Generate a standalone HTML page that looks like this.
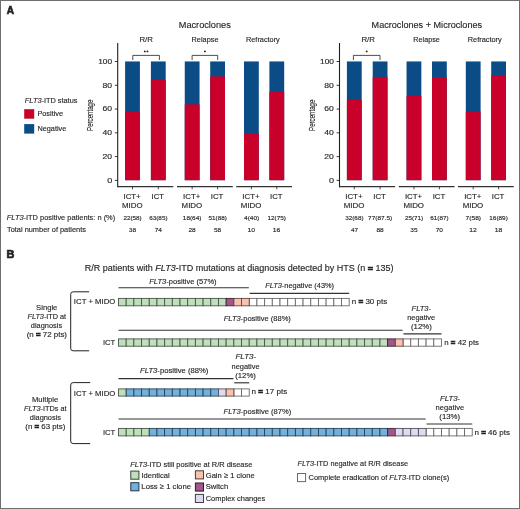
<!DOCTYPE html>
<html><head><meta charset="utf-8"><style>
html,body{margin:0;padding:0;background:#fff;width:520px;height:509px;overflow:hidden}
svg{display:block;filter:blur(0.35px);font-family:"Liberation Sans", sans-serif}
text{stroke:#231f20;stroke-width:0.14px}
text.b{stroke-width:0.7px}
tspan.eq{stroke-width:0.75px}
</style></head><body>
<svg width="520" height="509" viewBox="0 0 520 509">
<line x1="117.70" y1="43" x2="117.70" y2="187.3" stroke="#231f20" stroke-width="1.1"/>
<line x1="114.80" y1="180.40" x2="117.70" y2="180.40" stroke="#231f20" stroke-width="0.9"/>
<line x1="114.80" y1="156.62" x2="117.70" y2="156.62" stroke="#231f20" stroke-width="0.9"/>
<line x1="114.80" y1="132.84" x2="117.70" y2="132.84" stroke="#231f20" stroke-width="0.9"/>
<line x1="114.80" y1="109.06" x2="117.70" y2="109.06" stroke="#231f20" stroke-width="0.9"/>
<line x1="114.80" y1="85.28" x2="117.70" y2="85.28" stroke="#231f20" stroke-width="0.9"/>
<line x1="114.80" y1="61.50" x2="117.70" y2="61.50" stroke="#231f20" stroke-width="0.9"/>
<rect x="125.10" y="61.45" width="14.8" height="118.75" fill="#0b4b86"/>
<rect x="125.10" y="111.91" width="14.8" height="68.29" fill="#c8002a"/>
<line x1="132.50" y1="186.6" x2="132.50" y2="189.3" stroke="#231f20" stroke-width="0.8"/>
<rect x="150.90" y="61.45" width="14.8" height="118.75" fill="#0b4b86"/>
<rect x="150.90" y="79.69" width="14.8" height="100.51" fill="#c8002a"/>
<line x1="158.30" y1="186.6" x2="158.30" y2="189.3" stroke="#231f20" stroke-width="0.8"/>
<rect x="184.75" y="61.45" width="14.8" height="118.75" fill="#0b4b86"/>
<rect x="184.75" y="104.35" width="14.8" height="75.85" fill="#c8002a"/>
<line x1="192.15" y1="186.6" x2="192.15" y2="189.3" stroke="#231f20" stroke-width="0.8"/>
<rect x="210.20" y="61.45" width="14.8" height="118.75" fill="#0b4b86"/>
<rect x="210.20" y="76.38" width="14.8" height="103.82" fill="#c8002a"/>
<line x1="217.60" y1="186.6" x2="217.60" y2="189.3" stroke="#231f20" stroke-width="0.8"/>
<rect x="244.00" y="61.45" width="14.8" height="118.75" fill="#0b4b86"/>
<rect x="244.00" y="133.08" width="14.8" height="47.12" fill="#c8002a"/>
<line x1="251.40" y1="186.6" x2="251.40" y2="189.3" stroke="#231f20" stroke-width="0.8"/>
<rect x="269.40" y="61.45" width="14.8" height="118.75" fill="#0b4b86"/>
<rect x="269.40" y="91.67" width="14.8" height="88.52" fill="#c8002a"/>
<line x1="276.80" y1="186.6" x2="276.80" y2="189.3" stroke="#231f20" stroke-width="0.8"/>
<line x1="117.50" y1="186.7" x2="173.30" y2="186.7" stroke="#333" stroke-width="1.2"/>
<line x1="176.97" y1="186.7" x2="232.78" y2="186.7" stroke="#333" stroke-width="1.2"/>
<line x1="236.20" y1="186.7" x2="292.00" y2="186.7" stroke="#333" stroke-width="1.2"/>
<path d="M132.80,60 V55.4 H159.40 V60" fill="none" stroke="#231f20" stroke-width="0.8"/>
<circle cx="144.80" cy="51.4" r="0.95" fill="#231f20"/>
<circle cx="147.40" cy="51.4" r="0.95" fill="#231f20"/>
<path d="M192.10,60 V55.4 H217.70 V60" fill="none" stroke="#231f20" stroke-width="0.8"/>
<circle cx="204.90" cy="51.4" r="0.95" fill="#231f20"/>
<text transform="translate(93.10,130.9) rotate(-90)" font-size="8.5" textLength="31.3" lengthAdjust="spacingAndGlyphs" fill="#231f20">Percentage</text>
<line x1="339.50" y1="43" x2="339.50" y2="187.3" stroke="#231f20" stroke-width="1.1"/>
<line x1="336.60" y1="180.40" x2="339.50" y2="180.40" stroke="#231f20" stroke-width="0.9"/>
<line x1="336.60" y1="156.62" x2="339.50" y2="156.62" stroke="#231f20" stroke-width="0.9"/>
<line x1="336.60" y1="132.84" x2="339.50" y2="132.84" stroke="#231f20" stroke-width="0.9"/>
<line x1="336.60" y1="109.06" x2="339.50" y2="109.06" stroke="#231f20" stroke-width="0.9"/>
<line x1="336.60" y1="85.28" x2="339.50" y2="85.28" stroke="#231f20" stroke-width="0.9"/>
<line x1="336.60" y1="61.50" x2="339.50" y2="61.50" stroke="#231f20" stroke-width="0.9"/>
<rect x="346.90" y="61.45" width="14.8" height="118.75" fill="#0b4b86"/>
<rect x="346.90" y="99.86" width="14.8" height="80.34" fill="#c8002a"/>
<line x1="354.30" y1="186.6" x2="354.30" y2="189.3" stroke="#231f20" stroke-width="0.8"/>
<rect x="372.70" y="61.45" width="14.8" height="118.75" fill="#0b4b86"/>
<rect x="372.70" y="76.89" width="14.8" height="103.31" fill="#c8002a"/>
<line x1="380.10" y1="186.6" x2="380.10" y2="189.3" stroke="#231f20" stroke-width="0.8"/>
<rect x="406.55" y="61.45" width="14.8" height="118.75" fill="#0b4b86"/>
<rect x="406.55" y="95.90" width="14.8" height="84.30" fill="#c8002a"/>
<line x1="413.95" y1="186.6" x2="413.95" y2="189.3" stroke="#231f20" stroke-width="0.8"/>
<rect x="432.00" y="61.45" width="14.8" height="118.75" fill="#0b4b86"/>
<rect x="432.00" y="77.31" width="14.8" height="102.89" fill="#c8002a"/>
<line x1="439.40" y1="186.6" x2="439.40" y2="189.3" stroke="#231f20" stroke-width="0.8"/>
<rect x="465.80" y="61.45" width="14.8" height="118.75" fill="#0b4b86"/>
<rect x="465.80" y="111.39" width="14.8" height="68.81" fill="#c8002a"/>
<line x1="473.20" y1="186.6" x2="473.20" y2="189.3" stroke="#231f20" stroke-width="0.8"/>
<rect x="491.20" y="61.45" width="14.8" height="118.75" fill="#0b4b86"/>
<rect x="491.20" y="75.24" width="14.8" height="104.96" fill="#c8002a"/>
<line x1="498.60" y1="186.6" x2="498.60" y2="189.3" stroke="#231f20" stroke-width="0.8"/>
<line x1="339.30" y1="186.7" x2="395.10" y2="186.7" stroke="#333" stroke-width="1.2"/>
<line x1="398.78" y1="186.7" x2="454.57" y2="186.7" stroke="#333" stroke-width="1.2"/>
<line x1="458.00" y1="186.7" x2="513.80" y2="186.7" stroke="#333" stroke-width="1.2"/>
<path d="M353.40,60 V55.4 H380.00 V60" fill="none" stroke="#231f20" stroke-width="0.8"/>
<circle cx="366.70" cy="51.4" r="0.95" fill="#231f20"/>
<text transform="translate(314.90,130.9) rotate(-90)" font-size="8.5" textLength="31.3" lengthAdjust="spacingAndGlyphs" fill="#231f20">Percentage</text>
<rect x="24.2" y="109.2" width="10" height="9.5" fill="#c8002a"/>
<rect x="24.2" y="124.1" width="10" height="9.5" fill="#0b4b86"/>
<path d="M89.1,291.8 H73.2 Q70.7,291.8 70.7,294.3 V348.3 Q70.7,350.8 73.2,350.8 H89.1" fill="none" stroke="#231f20" stroke-width="1"/>
<path d="M90.2,382.6 H73.2 Q70.7,382.6 70.7,385.1 V441.1 Q70.7,443.6 73.2,443.6 H90.2" fill="none" stroke="#231f20" stroke-width="1"/>
<rect x="249.23" y="298.40" width="7.69" height="7.4" fill="#fff" stroke="#6a6a6a" stroke-width="0.9"/>
<rect x="256.92" y="298.40" width="7.69" height="7.4" fill="#fff" stroke="#6a6a6a" stroke-width="0.9"/>
<rect x="264.61" y="298.40" width="7.69" height="7.4" fill="#fff" stroke="#6a6a6a" stroke-width="0.9"/>
<rect x="272.30" y="298.40" width="7.69" height="7.4" fill="#fff" stroke="#6a6a6a" stroke-width="0.9"/>
<rect x="279.99" y="298.40" width="7.69" height="7.4" fill="#fff" stroke="#6a6a6a" stroke-width="0.9"/>
<rect x="287.68" y="298.40" width="7.69" height="7.4" fill="#fff" stroke="#6a6a6a" stroke-width="0.9"/>
<rect x="295.37" y="298.40" width="7.69" height="7.4" fill="#fff" stroke="#6a6a6a" stroke-width="0.9"/>
<rect x="303.06" y="298.40" width="7.69" height="7.4" fill="#fff" stroke="#6a6a6a" stroke-width="0.9"/>
<rect x="310.75" y="298.40" width="7.69" height="7.4" fill="#fff" stroke="#6a6a6a" stroke-width="0.9"/>
<rect x="318.44" y="298.40" width="7.69" height="7.4" fill="#fff" stroke="#6a6a6a" stroke-width="0.9"/>
<rect x="326.13" y="298.40" width="7.69" height="7.4" fill="#fff" stroke="#6a6a6a" stroke-width="0.9"/>
<rect x="333.82" y="298.40" width="7.69" height="7.4" fill="#fff" stroke="#6a6a6a" stroke-width="0.9"/>
<rect x="341.51" y="298.40" width="7.69" height="7.4" fill="#fff" stroke="#6a6a6a" stroke-width="0.9"/>
<rect x="118.50" y="298.40" width="7.69" height="7.4" fill="#c0e0bd" stroke="#485547" stroke-width="0.9"/>
<rect x="126.19" y="298.40" width="7.69" height="7.4" fill="#c0e0bd" stroke="#485547" stroke-width="0.9"/>
<rect x="133.88" y="298.40" width="7.69" height="7.4" fill="#c0e0bd" stroke="#485547" stroke-width="0.9"/>
<rect x="141.57" y="298.40" width="7.69" height="7.4" fill="#c0e0bd" stroke="#485547" stroke-width="0.9"/>
<rect x="149.26" y="298.40" width="7.69" height="7.4" fill="#c0e0bd" stroke="#485547" stroke-width="0.9"/>
<rect x="156.95" y="298.40" width="7.69" height="7.4" fill="#c0e0bd" stroke="#485547" stroke-width="0.9"/>
<rect x="164.64" y="298.40" width="7.69" height="7.4" fill="#c0e0bd" stroke="#485547" stroke-width="0.9"/>
<rect x="172.33" y="298.40" width="7.69" height="7.4" fill="#c0e0bd" stroke="#485547" stroke-width="0.9"/>
<rect x="180.02" y="298.40" width="7.69" height="7.4" fill="#c0e0bd" stroke="#485547" stroke-width="0.9"/>
<rect x="187.71" y="298.40" width="7.69" height="7.4" fill="#c0e0bd" stroke="#485547" stroke-width="0.9"/>
<rect x="195.40" y="298.40" width="7.69" height="7.4" fill="#c0e0bd" stroke="#485547" stroke-width="0.9"/>
<rect x="203.09" y="298.40" width="7.69" height="7.4" fill="#c0e0bd" stroke="#485547" stroke-width="0.9"/>
<rect x="210.78" y="298.40" width="7.69" height="7.4" fill="#c0e0bd" stroke="#485547" stroke-width="0.9"/>
<rect x="218.47" y="298.40" width="7.69" height="7.4" fill="#c0e0bd" stroke="#485547" stroke-width="0.9"/>
<rect x="226.16" y="298.40" width="7.69" height="7.4" fill="#a2578b" stroke="#3d2134" stroke-width="0.9"/>
<rect x="233.85" y="298.40" width="7.69" height="7.4" fill="#f8c1b0" stroke="#5e4942" stroke-width="0.9"/>
<rect x="241.54" y="298.40" width="7.69" height="7.4" fill="#f8c1b0" stroke="#5e4942" stroke-width="0.9"/>
<line x1="118.50" y1="287.7" x2="248.83" y2="287.7" stroke="#333" stroke-width="1.15"/>
<line x1="249.63" y1="293.3" x2="349.20" y2="293.3" stroke="#333" stroke-width="1.15"/>
<rect x="403.03" y="338.90" width="7.69" height="7.3" fill="#fff" stroke="#6a6a6a" stroke-width="0.9"/>
<rect x="410.72" y="338.90" width="7.69" height="7.3" fill="#fff" stroke="#6a6a6a" stroke-width="0.9"/>
<rect x="418.41" y="338.90" width="7.69" height="7.3" fill="#fff" stroke="#6a6a6a" stroke-width="0.9"/>
<rect x="426.10" y="338.90" width="7.69" height="7.3" fill="#fff" stroke="#6a6a6a" stroke-width="0.9"/>
<rect x="433.79" y="338.90" width="7.69" height="7.3" fill="#fff" stroke="#6a6a6a" stroke-width="0.9"/>
<rect x="118.50" y="338.90" width="7.69" height="7.3" fill="#c0e0bd" stroke="#485547" stroke-width="0.9"/>
<rect x="126.19" y="338.90" width="7.69" height="7.3" fill="#c0e0bd" stroke="#485547" stroke-width="0.9"/>
<rect x="133.88" y="338.90" width="7.69" height="7.3" fill="#c0e0bd" stroke="#485547" stroke-width="0.9"/>
<rect x="141.57" y="338.90" width="7.69" height="7.3" fill="#c0e0bd" stroke="#485547" stroke-width="0.9"/>
<rect x="149.26" y="338.90" width="7.69" height="7.3" fill="#c0e0bd" stroke="#485547" stroke-width="0.9"/>
<rect x="156.95" y="338.90" width="7.69" height="7.3" fill="#c0e0bd" stroke="#485547" stroke-width="0.9"/>
<rect x="164.64" y="338.90" width="7.69" height="7.3" fill="#c0e0bd" stroke="#485547" stroke-width="0.9"/>
<rect x="172.33" y="338.90" width="7.69" height="7.3" fill="#c0e0bd" stroke="#485547" stroke-width="0.9"/>
<rect x="180.02" y="338.90" width="7.69" height="7.3" fill="#c0e0bd" stroke="#485547" stroke-width="0.9"/>
<rect x="187.71" y="338.90" width="7.69" height="7.3" fill="#c0e0bd" stroke="#485547" stroke-width="0.9"/>
<rect x="195.40" y="338.90" width="7.69" height="7.3" fill="#c0e0bd" stroke="#485547" stroke-width="0.9"/>
<rect x="203.09" y="338.90" width="7.69" height="7.3" fill="#c0e0bd" stroke="#485547" stroke-width="0.9"/>
<rect x="210.78" y="338.90" width="7.69" height="7.3" fill="#c0e0bd" stroke="#485547" stroke-width="0.9"/>
<rect x="218.47" y="338.90" width="7.69" height="7.3" fill="#c0e0bd" stroke="#485547" stroke-width="0.9"/>
<rect x="226.16" y="338.90" width="7.69" height="7.3" fill="#c0e0bd" stroke="#485547" stroke-width="0.9"/>
<rect x="233.85" y="338.90" width="7.69" height="7.3" fill="#c0e0bd" stroke="#485547" stroke-width="0.9"/>
<rect x="241.54" y="338.90" width="7.69" height="7.3" fill="#c0e0bd" stroke="#485547" stroke-width="0.9"/>
<rect x="249.23" y="338.90" width="7.69" height="7.3" fill="#c0e0bd" stroke="#485547" stroke-width="0.9"/>
<rect x="256.92" y="338.90" width="7.69" height="7.3" fill="#c0e0bd" stroke="#485547" stroke-width="0.9"/>
<rect x="264.61" y="338.90" width="7.69" height="7.3" fill="#c0e0bd" stroke="#485547" stroke-width="0.9"/>
<rect x="272.30" y="338.90" width="7.69" height="7.3" fill="#c0e0bd" stroke="#485547" stroke-width="0.9"/>
<rect x="279.99" y="338.90" width="7.69" height="7.3" fill="#c0e0bd" stroke="#485547" stroke-width="0.9"/>
<rect x="287.68" y="338.90" width="7.69" height="7.3" fill="#c0e0bd" stroke="#485547" stroke-width="0.9"/>
<rect x="295.37" y="338.90" width="7.69" height="7.3" fill="#c0e0bd" stroke="#485547" stroke-width="0.9"/>
<rect x="303.06" y="338.90" width="7.69" height="7.3" fill="#c0e0bd" stroke="#485547" stroke-width="0.9"/>
<rect x="310.75" y="338.90" width="7.69" height="7.3" fill="#c0e0bd" stroke="#485547" stroke-width="0.9"/>
<rect x="318.44" y="338.90" width="7.69" height="7.3" fill="#c0e0bd" stroke="#485547" stroke-width="0.9"/>
<rect x="326.13" y="338.90" width="7.69" height="7.3" fill="#c0e0bd" stroke="#485547" stroke-width="0.9"/>
<rect x="333.82" y="338.90" width="7.69" height="7.3" fill="#c0e0bd" stroke="#485547" stroke-width="0.9"/>
<rect x="341.51" y="338.90" width="7.69" height="7.3" fill="#c0e0bd" stroke="#485547" stroke-width="0.9"/>
<rect x="349.20" y="338.90" width="7.69" height="7.3" fill="#c0e0bd" stroke="#485547" stroke-width="0.9"/>
<rect x="356.89" y="338.90" width="7.69" height="7.3" fill="#c0e0bd" stroke="#485547" stroke-width="0.9"/>
<rect x="364.58" y="338.90" width="7.69" height="7.3" fill="#c0e0bd" stroke="#485547" stroke-width="0.9"/>
<rect x="372.27" y="338.90" width="7.69" height="7.3" fill="#c0e0bd" stroke="#485547" stroke-width="0.9"/>
<rect x="379.96" y="338.90" width="7.69" height="7.3" fill="#c0e0bd" stroke="#485547" stroke-width="0.9"/>
<rect x="387.65" y="338.90" width="7.69" height="7.3" fill="#a2578b" stroke="#3d2134" stroke-width="0.9"/>
<rect x="395.34" y="338.90" width="7.69" height="7.3" fill="#f8c1b0" stroke="#5e4942" stroke-width="0.9"/>
<line x1="118.50" y1="330.2" x2="402.63" y2="330.2" stroke="#333" stroke-width="1.15"/>
<line x1="403.43" y1="333.8" x2="441.48" y2="333.8" stroke="#333" stroke-width="1.15"/>
<rect x="233.85" y="388.90" width="7.69" height="7.2" fill="#fff" stroke="#6a6a6a" stroke-width="0.9"/>
<rect x="241.54" y="388.90" width="7.69" height="7.2" fill="#fff" stroke="#6a6a6a" stroke-width="0.9"/>
<rect x="118.50" y="388.90" width="7.69" height="7.2" fill="#c0e0bd" stroke="#485547" stroke-width="0.9"/>
<rect x="126.19" y="388.90" width="7.69" height="7.2" fill="#72b1de" stroke="#2b4354" stroke-width="0.9"/>
<rect x="133.88" y="388.90" width="7.69" height="7.2" fill="#72b1de" stroke="#2b4354" stroke-width="0.9"/>
<rect x="141.57" y="388.90" width="7.69" height="7.2" fill="#72b1de" stroke="#2b4354" stroke-width="0.9"/>
<rect x="149.26" y="388.90" width="7.69" height="7.2" fill="#72b1de" stroke="#2b4354" stroke-width="0.9"/>
<rect x="156.95" y="388.90" width="7.69" height="7.2" fill="#72b1de" stroke="#2b4354" stroke-width="0.9"/>
<rect x="164.64" y="388.90" width="7.69" height="7.2" fill="#72b1de" stroke="#2b4354" stroke-width="0.9"/>
<rect x="172.33" y="388.90" width="7.69" height="7.2" fill="#72b1de" stroke="#2b4354" stroke-width="0.9"/>
<rect x="180.02" y="388.90" width="7.69" height="7.2" fill="#72b1de" stroke="#2b4354" stroke-width="0.9"/>
<rect x="187.71" y="388.90" width="7.69" height="7.2" fill="#72b1de" stroke="#2b4354" stroke-width="0.9"/>
<rect x="195.40" y="388.90" width="7.69" height="7.2" fill="#72b1de" stroke="#2b4354" stroke-width="0.9"/>
<rect x="203.09" y="388.90" width="7.69" height="7.2" fill="#72b1de" stroke="#2b4354" stroke-width="0.9"/>
<rect x="210.78" y="388.90" width="7.69" height="7.2" fill="#72b1de" stroke="#2b4354" stroke-width="0.9"/>
<rect x="218.47" y="388.90" width="7.69" height="7.2" fill="#e0daf0" stroke="#55525b" stroke-width="0.9"/>
<rect x="226.16" y="388.90" width="7.69" height="7.2" fill="#f8c1b0" stroke="#5e4942" stroke-width="0.9"/>
<line x1="118.50" y1="378.6" x2="233.45" y2="378.6" stroke="#333" stroke-width="1.15"/>
<line x1="234.25" y1="382.8" x2="249.23" y2="382.8" stroke="#333" stroke-width="1.15"/>
<rect x="426.10" y="428.40" width="7.69" height="7.5" fill="#fff" stroke="#6a6a6a" stroke-width="0.9"/>
<rect x="433.79" y="428.40" width="7.69" height="7.5" fill="#fff" stroke="#6a6a6a" stroke-width="0.9"/>
<rect x="441.48" y="428.40" width="7.69" height="7.5" fill="#fff" stroke="#6a6a6a" stroke-width="0.9"/>
<rect x="449.17" y="428.40" width="7.69" height="7.5" fill="#fff" stroke="#6a6a6a" stroke-width="0.9"/>
<rect x="456.86" y="428.40" width="7.69" height="7.5" fill="#fff" stroke="#6a6a6a" stroke-width="0.9"/>
<rect x="464.55" y="428.40" width="7.69" height="7.5" fill="#fff" stroke="#6a6a6a" stroke-width="0.9"/>
<rect x="118.50" y="428.40" width="7.69" height="7.5" fill="#c0e0bd" stroke="#485547" stroke-width="0.9"/>
<rect x="126.19" y="428.40" width="7.69" height="7.5" fill="#c0e0bd" stroke="#485547" stroke-width="0.9"/>
<rect x="133.88" y="428.40" width="7.69" height="7.5" fill="#c0e0bd" stroke="#485547" stroke-width="0.9"/>
<rect x="141.57" y="428.40" width="7.69" height="7.5" fill="#c0e0bd" stroke="#485547" stroke-width="0.9"/>
<rect x="149.26" y="428.40" width="7.69" height="7.5" fill="#72b1de" stroke="#2b4354" stroke-width="0.9"/>
<rect x="156.95" y="428.40" width="7.69" height="7.5" fill="#72b1de" stroke="#2b4354" stroke-width="0.9"/>
<rect x="164.64" y="428.40" width="7.69" height="7.5" fill="#72b1de" stroke="#2b4354" stroke-width="0.9"/>
<rect x="172.33" y="428.40" width="7.69" height="7.5" fill="#72b1de" stroke="#2b4354" stroke-width="0.9"/>
<rect x="180.02" y="428.40" width="7.69" height="7.5" fill="#72b1de" stroke="#2b4354" stroke-width="0.9"/>
<rect x="187.71" y="428.40" width="7.69" height="7.5" fill="#72b1de" stroke="#2b4354" stroke-width="0.9"/>
<rect x="195.40" y="428.40" width="7.69" height="7.5" fill="#72b1de" stroke="#2b4354" stroke-width="0.9"/>
<rect x="203.09" y="428.40" width="7.69" height="7.5" fill="#72b1de" stroke="#2b4354" stroke-width="0.9"/>
<rect x="210.78" y="428.40" width="7.69" height="7.5" fill="#72b1de" stroke="#2b4354" stroke-width="0.9"/>
<rect x="218.47" y="428.40" width="7.69" height="7.5" fill="#72b1de" stroke="#2b4354" stroke-width="0.9"/>
<rect x="226.16" y="428.40" width="7.69" height="7.5" fill="#72b1de" stroke="#2b4354" stroke-width="0.9"/>
<rect x="233.85" y="428.40" width="7.69" height="7.5" fill="#72b1de" stroke="#2b4354" stroke-width="0.9"/>
<rect x="241.54" y="428.40" width="7.69" height="7.5" fill="#72b1de" stroke="#2b4354" stroke-width="0.9"/>
<rect x="249.23" y="428.40" width="7.69" height="7.5" fill="#72b1de" stroke="#2b4354" stroke-width="0.9"/>
<rect x="256.92" y="428.40" width="7.69" height="7.5" fill="#72b1de" stroke="#2b4354" stroke-width="0.9"/>
<rect x="264.61" y="428.40" width="7.69" height="7.5" fill="#72b1de" stroke="#2b4354" stroke-width="0.9"/>
<rect x="272.30" y="428.40" width="7.69" height="7.5" fill="#72b1de" stroke="#2b4354" stroke-width="0.9"/>
<rect x="279.99" y="428.40" width="7.69" height="7.5" fill="#72b1de" stroke="#2b4354" stroke-width="0.9"/>
<rect x="287.68" y="428.40" width="7.69" height="7.5" fill="#72b1de" stroke="#2b4354" stroke-width="0.9"/>
<rect x="295.37" y="428.40" width="7.69" height="7.5" fill="#72b1de" stroke="#2b4354" stroke-width="0.9"/>
<rect x="303.06" y="428.40" width="7.69" height="7.5" fill="#72b1de" stroke="#2b4354" stroke-width="0.9"/>
<rect x="310.75" y="428.40" width="7.69" height="7.5" fill="#72b1de" stroke="#2b4354" stroke-width="0.9"/>
<rect x="318.44" y="428.40" width="7.69" height="7.5" fill="#72b1de" stroke="#2b4354" stroke-width="0.9"/>
<rect x="326.13" y="428.40" width="7.69" height="7.5" fill="#72b1de" stroke="#2b4354" stroke-width="0.9"/>
<rect x="333.82" y="428.40" width="7.69" height="7.5" fill="#72b1de" stroke="#2b4354" stroke-width="0.9"/>
<rect x="341.51" y="428.40" width="7.69" height="7.5" fill="#72b1de" stroke="#2b4354" stroke-width="0.9"/>
<rect x="349.20" y="428.40" width="7.69" height="7.5" fill="#72b1de" stroke="#2b4354" stroke-width="0.9"/>
<rect x="356.89" y="428.40" width="7.69" height="7.5" fill="#72b1de" stroke="#2b4354" stroke-width="0.9"/>
<rect x="364.58" y="428.40" width="7.69" height="7.5" fill="#72b1de" stroke="#2b4354" stroke-width="0.9"/>
<rect x="372.27" y="428.40" width="7.69" height="7.5" fill="#72b1de" stroke="#2b4354" stroke-width="0.9"/>
<rect x="379.96" y="428.40" width="7.69" height="7.5" fill="#72b1de" stroke="#2b4354" stroke-width="0.9"/>
<rect x="387.65" y="428.40" width="7.69" height="7.5" fill="#a2578b" stroke="#3d2134" stroke-width="0.9"/>
<rect x="395.34" y="428.40" width="7.69" height="7.5" fill="#e0daf0" stroke="#55525b" stroke-width="0.9"/>
<rect x="403.03" y="428.40" width="7.69" height="7.5" fill="#e0daf0" stroke="#55525b" stroke-width="0.9"/>
<rect x="410.72" y="428.40" width="7.69" height="7.5" fill="#e0daf0" stroke="#55525b" stroke-width="0.9"/>
<rect x="418.41" y="428.40" width="7.69" height="7.5" fill="#e0daf0" stroke="#55525b" stroke-width="0.9"/>
<line x1="118.50" y1="419.0" x2="425.70" y2="419.0" stroke="#333" stroke-width="1.15"/>
<line x1="426.50" y1="424.0" x2="472.24" y2="424.0" stroke="#333" stroke-width="1.15"/>
<rect x="130.8" y="471.1" width="8.1" height="8.1" fill="#c0e0bd" stroke="#394338" stroke-width="1.0"/>
<rect x="130.8" y="482.7" width="8.1" height="8.1" fill="#72b1de" stroke="#223542" stroke-width="1.0"/>
<rect x="195.4" y="470.8" width="8.1" height="8.1" fill="#f8c1b0" stroke="#4a3934" stroke-width="1.0"/>
<rect x="195.4" y="483.0" width="8.1" height="8.1" fill="#a2578b" stroke="#301a29" stroke-width="1.0"/>
<rect x="195.4" y="494.4" width="8.1" height="8.1" fill="#e0daf0" stroke="#434148" stroke-width="1.0"/>
<rect x="297.5" y="473.5" width="8.1" height="8.1" fill="#fff" stroke="#6a6a6a" stroke-width="1.0"/>
<rect x="0.5" y="0.5" width="519" height="508" fill="none" stroke="#6e6e6e" stroke-width="1"/>
<text id="t0" class="b" transform="translate(6.662,13.500) scale(0.9517,1)" font-size="10.6" font-weight="bold" fill="#231f20" xml:space="preserve"><tspan font-style="normal">A</tspan></text>
<text id="t1" transform="translate(178.767,28.000) scale(0.9769,1)" font-size="9.4" font-weight="normal" fill="#231f20" xml:space="preserve"><tspan font-style="normal">Macroclones</tspan></text>
<text id="t2" transform="translate(139.396,42.200) scale(1.0080,1)" font-size="7.8" font-weight="normal" fill="#231f20" xml:space="preserve"><tspan font-style="normal">R/R</tspan></text>
<text id="t3" transform="translate(191.528,41.800) scale(0.9441,1)" font-size="7.8" font-weight="normal" fill="#231f20" xml:space="preserve"><tspan font-style="normal">Relapse</tspan></text>
<text id="t4" transform="translate(246.031,42.100) scale(0.9380,1)" font-size="7.8" font-weight="normal" fill="#231f20" xml:space="preserve"><tspan font-style="normal">Refractory</tspan></text>
<text id="t5" transform="translate(107.193,182.750) scale(1.2286,1)" font-size="7.4" font-weight="normal" fill="#231f20" xml:space="preserve"><tspan font-style="normal">0</tspan></text>
<text id="t6" transform="translate(102.510,158.970) scale(1.1613,1)" font-size="7.4" font-weight="normal" fill="#231f20" xml:space="preserve"><tspan font-style="normal">20</tspan></text>
<text id="t7" transform="translate(102.510,135.190) scale(1.1613,1)" font-size="7.4" font-weight="normal" fill="#231f20" xml:space="preserve"><tspan font-style="normal">40</tspan></text>
<text id="t8" transform="translate(102.510,111.410) scale(1.1613,1)" font-size="7.4" font-weight="normal" fill="#231f20" xml:space="preserve"><tspan font-style="normal">60</tspan></text>
<text id="t9" transform="translate(102.510,87.630) scale(1.1613,1)" font-size="7.4" font-weight="normal" fill="#231f20" xml:space="preserve"><tspan font-style="normal">80</tspan></text>
<text id="t10" transform="translate(98.235,63.850) scale(1.1304,1)" font-size="7.4" font-weight="normal" fill="#231f20" xml:space="preserve"><tspan font-style="normal">100</tspan></text>
<text id="t11" transform="translate(123.452,199.400) scale(0.9969,1)" font-size="7.9" font-weight="normal" fill="#231f20" xml:space="preserve"><tspan font-style="normal">ICT+</tspan></text>
<text id="t12" transform="translate(121.950,208.300) scale(1.0000,1)" font-size="7.9" font-weight="normal" fill="#231f20" xml:space="preserve"><tspan font-style="normal">MIDO</tspan></text>
<text id="t13" transform="translate(123.445,220.200) scale(1.0203,1)" font-size="6.2" font-weight="normal" fill="#231f20" xml:space="preserve"><tspan font-style="normal">22(58)</tspan></text>
<text id="t14" transform="translate(128.828,231.500) scale(1.0880,1)" font-size="6.0" font-weight="normal" fill="#231f20" xml:space="preserve"><tspan font-style="normal">38</tspan></text>
<text id="t15" transform="translate(151.566,199.400) scale(0.9787,1)" font-size="7.9" font-weight="normal" fill="#231f20" xml:space="preserve"><tspan font-style="normal">ICT</tspan></text>
<text id="t16" transform="translate(149.245,220.200) scale(1.0203,1)" font-size="6.2" font-weight="normal" fill="#231f20" xml:space="preserve"><tspan font-style="normal">63(85)</tspan></text>
<text id="t17" transform="translate(154.628,231.500) scale(1.0880,1)" font-size="6.0" font-weight="normal" fill="#231f20" xml:space="preserve"><tspan font-style="normal">74</tspan></text>
<text id="t18" transform="translate(183.102,199.400) scale(0.9969,1)" font-size="7.9" font-weight="normal" fill="#231f20" xml:space="preserve"><tspan font-style="normal">ICT+</tspan></text>
<text id="t19" transform="translate(181.600,208.300) scale(1.0000,1)" font-size="7.9" font-weight="normal" fill="#231f20" xml:space="preserve"><tspan font-style="normal">MIDO</tspan></text>
<text id="t20" transform="translate(182.832,220.200) scale(1.0353,1)" font-size="6.2" font-weight="normal" fill="#231f20" xml:space="preserve"><tspan font-style="normal">18(64)</tspan></text>
<text id="t21" transform="translate(188.478,231.500) scale(1.0880,1)" font-size="6.0" font-weight="normal" fill="#231f20" xml:space="preserve"><tspan font-style="normal">28</tspan></text>
<text id="t22" transform="translate(210.866,199.400) scale(0.9787,1)" font-size="7.9" font-weight="normal" fill="#231f20" xml:space="preserve"><tspan font-style="normal">ICT</tspan></text>
<text id="t23" transform="translate(208.545,220.200) scale(1.0203,1)" font-size="6.2" font-weight="normal" fill="#231f20" xml:space="preserve"><tspan font-style="normal">51(88)</tspan></text>
<text id="t24" transform="translate(213.928,231.500) scale(1.0880,1)" font-size="6.0" font-weight="normal" fill="#231f20" xml:space="preserve"><tspan font-style="normal">58</tspan></text>
<text id="t25" transform="translate(242.352,199.400) scale(0.9969,1)" font-size="7.9" font-weight="normal" fill="#231f20" xml:space="preserve"><tspan font-style="normal">ICT+</tspan></text>
<text id="t26" transform="translate(240.850,208.300) scale(1.0000,1)" font-size="7.9" font-weight="normal" fill="#231f20" xml:space="preserve"><tspan font-style="normal">MIDO</tspan></text>
<text id="t27" transform="translate(244.067,220.200) scale(1.0476,1)" font-size="6.2" font-weight="normal" fill="#231f20" xml:space="preserve"><tspan font-style="normal">4(40)</tspan></text>
<text id="t28" transform="translate(247.433,231.500) scale(1.1333,1)" font-size="6.0" font-weight="normal" fill="#231f20" xml:space="preserve"><tspan font-style="normal">10</tspan></text>
<text id="t29" transform="translate(270.066,199.400) scale(0.9787,1)" font-size="7.9" font-weight="normal" fill="#231f20" xml:space="preserve"><tspan font-style="normal">ICT</tspan></text>
<text id="t30" transform="translate(267.482,220.200) scale(1.0353,1)" font-size="6.2" font-weight="normal" fill="#231f20" xml:space="preserve"><tspan font-style="normal">12(75)</tspan></text>
<text id="t31" transform="translate(272.833,231.500) scale(1.1333,1)" font-size="6.0" font-weight="normal" fill="#231f20" xml:space="preserve"><tspan font-style="normal">16</tspan></text>
<text id="t32" transform="translate(371.574,28.000) scale(0.9685,1)" font-size="9.4" font-weight="normal" fill="#231f20" xml:space="preserve"><tspan font-style="normal">Macroclones + Microclones</tspan></text>
<text id="t33" transform="translate(361.396,41.800) scale(1.0080,1)" font-size="7.8" font-weight="normal" fill="#231f20" xml:space="preserve"><tspan font-style="normal">R/R</tspan></text>
<text id="t34" transform="translate(413.337,41.800) scale(0.9261,1)" font-size="7.8" font-weight="normal" fill="#231f20" xml:space="preserve"><tspan font-style="normal">Relapse</tspan></text>
<text id="t35" transform="translate(467.727,42.000) scale(0.9465,1)" font-size="7.8" font-weight="normal" fill="#231f20" xml:space="preserve"><tspan font-style="normal">Refractory</tspan></text>
<text id="t36" transform="translate(328.993,182.750) scale(1.2286,1)" font-size="7.4" font-weight="normal" fill="#231f20" xml:space="preserve"><tspan font-style="normal">0</tspan></text>
<text id="t37" transform="translate(324.310,158.970) scale(1.1613,1)" font-size="7.4" font-weight="normal" fill="#231f20" xml:space="preserve"><tspan font-style="normal">20</tspan></text>
<text id="t38" transform="translate(324.310,135.190) scale(1.1613,1)" font-size="7.4" font-weight="normal" fill="#231f20" xml:space="preserve"><tspan font-style="normal">40</tspan></text>
<text id="t39" transform="translate(324.310,111.410) scale(1.1613,1)" font-size="7.4" font-weight="normal" fill="#231f20" xml:space="preserve"><tspan font-style="normal">60</tspan></text>
<text id="t40" transform="translate(324.310,87.630) scale(1.1613,1)" font-size="7.4" font-weight="normal" fill="#231f20" xml:space="preserve"><tspan font-style="normal">80</tspan></text>
<text id="t41" transform="translate(320.035,63.850) scale(1.1304,1)" font-size="7.4" font-weight="normal" fill="#231f20" xml:space="preserve"><tspan font-style="normal">100</tspan></text>
<text id="t42" transform="translate(345.252,199.400) scale(0.9969,1)" font-size="7.9" font-weight="normal" fill="#231f20" xml:space="preserve"><tspan font-style="normal">ICT+</tspan></text>
<text id="t43" transform="translate(343.750,208.300) scale(1.0000,1)" font-size="7.9" font-weight="normal" fill="#231f20" xml:space="preserve"><tspan font-style="normal">MIDO</tspan></text>
<text id="t44" transform="translate(345.245,220.200) scale(1.0203,1)" font-size="6.2" font-weight="normal" fill="#231f20" xml:space="preserve"><tspan font-style="normal">32(68)</tspan></text>
<text id="t45" transform="translate(350.900,231.500) scale(1.0462,1)" font-size="6.0" font-weight="normal" fill="#231f20" xml:space="preserve"><tspan font-style="normal">47</tspan></text>
<text id="t46" transform="translate(373.366,199.400) scale(0.9787,1)" font-size="7.9" font-weight="normal" fill="#231f20" xml:space="preserve"><tspan font-style="normal">ICT</tspan></text>
<text id="t47" transform="translate(368.106,220.200) scale(1.0430,1)" font-size="6.2" font-weight="normal" fill="#231f20" xml:space="preserve"><tspan font-style="normal">77(87.5)</tspan></text>
<text id="t48" transform="translate(376.428,231.500) scale(1.0880,1)" font-size="6.0" font-weight="normal" fill="#231f20" xml:space="preserve"><tspan font-style="normal">88</tspan></text>
<text id="t49" transform="translate(404.902,199.400) scale(0.9969,1)" font-size="7.9" font-weight="normal" fill="#231f20" xml:space="preserve"><tspan font-style="normal">ICT+</tspan></text>
<text id="t50" transform="translate(403.400,208.300) scale(1.0000,1)" font-size="7.9" font-weight="normal" fill="#231f20" xml:space="preserve"><tspan font-style="normal">MIDO</tspan></text>
<text id="t51" transform="translate(404.895,220.200) scale(1.0203,1)" font-size="6.2" font-weight="normal" fill="#231f20" xml:space="preserve"><tspan font-style="normal">25(71)</tspan></text>
<text id="t52" transform="translate(410.278,231.500) scale(1.0880,1)" font-size="6.0" font-weight="normal" fill="#231f20" xml:space="preserve"><tspan font-style="normal">35</tspan></text>
<text id="t53" transform="translate(432.666,199.400) scale(0.9787,1)" font-size="7.9" font-weight="normal" fill="#231f20" xml:space="preserve"><tspan font-style="normal">ICT</tspan></text>
<text id="t54" transform="translate(430.345,220.200) scale(1.0203,1)" font-size="6.2" font-weight="normal" fill="#231f20" xml:space="preserve"><tspan font-style="normal">61(87)</tspan></text>
<text id="t55" transform="translate(435.728,231.500) scale(1.0880,1)" font-size="6.0" font-weight="normal" fill="#231f20" xml:space="preserve"><tspan font-style="normal">70</tspan></text>
<text id="t56" transform="translate(464.152,199.400) scale(0.9969,1)" font-size="7.9" font-weight="normal" fill="#231f20" xml:space="preserve"><tspan font-style="normal">ICT+</tspan></text>
<text id="t57" transform="translate(462.650,208.300) scale(1.0000,1)" font-size="7.9" font-weight="normal" fill="#231f20" xml:space="preserve"><tspan font-style="normal">MIDO</tspan></text>
<text id="t58" transform="translate(465.600,220.200) scale(1.0667,1)" font-size="6.2" font-weight="normal" fill="#231f20" xml:space="preserve"><tspan font-style="normal">7(58)</tspan></text>
<text id="t59" transform="translate(469.233,231.500) scale(1.1333,1)" font-size="6.0" font-weight="normal" fill="#231f20" xml:space="preserve"><tspan font-style="normal">12</tspan></text>
<text id="t60" transform="translate(491.866,199.400) scale(0.9787,1)" font-size="7.9" font-weight="normal" fill="#231f20" xml:space="preserve"><tspan font-style="normal">ICT</tspan></text>
<text id="t61" transform="translate(489.282,220.200) scale(1.0353,1)" font-size="6.2" font-weight="normal" fill="#231f20" xml:space="preserve"><tspan font-style="normal">16(89)</tspan></text>
<text id="t62" transform="translate(494.633,231.500) scale(1.1333,1)" font-size="6.0" font-weight="normal" fill="#231f20" xml:space="preserve"><tspan font-style="normal">18</tspan></text>
<text id="t63" transform="translate(24.864,103.100) scale(0.9430,1)" font-size="7.8" font-weight="normal" fill="#231f20" xml:space="preserve"><tspan font-style="italic">FLT3</tspan><tspan font-style="normal">-ITD status</tspan></text>
<text id="t64" transform="translate(37.430,116.200) scale(0.9396,1)" font-size="7.8" font-weight="normal" fill="#231f20" xml:space="preserve"><tspan font-style="normal">Positive</tspan></text>
<text id="t65" transform="translate(37.430,131.000) scale(0.9400,1)" font-size="7.8" font-weight="normal" fill="#231f20" xml:space="preserve"><tspan font-style="normal">Negative</tspan></text>
<text id="t66" transform="translate(6.762,220.200) scale(0.9536,1)" font-size="7.8" font-weight="normal" fill="#231f20" xml:space="preserve"><tspan font-style="italic">FLT3</tspan><tspan font-style="normal">-ITD positive patients: n (%)</tspan></text>
<text id="t67" transform="translate(6.963,231.500) scale(0.9498,1)" font-size="7.8" font-weight="normal" fill="#231f20" xml:space="preserve"><tspan font-style="normal">Total number of patients</tspan></text>
<text id="t68" class="b" transform="translate(6.527,258.000) scale(1.0308,1)" font-size="10.6" font-weight="bold" fill="#231f20" xml:space="preserve"><tspan font-style="normal">B</tspan></text>
<text id="t69" transform="translate(84.750,271.000) scale(1.0003,1)" font-size="9" font-weight="normal" fill="#231f20" xml:space="preserve"><tspan font-style="normal">R/R patients with </tspan><tspan font-style="italic">FLT3</tspan><tspan font-style="normal">-ITD mutations at diagnosis detected by HTS (n <tspan class="eq">=</tspan> 135)</tspan></text>
<text id="t70" transform="translate(36.115,310.100) scale(0.9694,1)" font-size="7.9" font-weight="normal" fill="#231f20" xml:space="preserve"><tspan font-style="normal">Single</tspan></text>
<text id="t71" transform="translate(27.469,319.200) scale(0.9222,1)" font-size="7.9" font-weight="normal" fill="#231f20" xml:space="preserve"><tspan font-style="italic">FLT3</tspan><tspan font-style="normal">-ITD at</tspan></text>
<text id="t72" transform="translate(30.866,327.900) scale(0.9374,1)" font-size="7.9" font-weight="normal" fill="#231f20" xml:space="preserve"><tspan font-style="normal">diagnosis</tspan></text>
<text id="t73" transform="translate(26.698,337.200) scale(1.0038,1)" font-size="7.9" font-weight="normal" fill="#231f20" xml:space="preserve"><tspan font-style="normal">(n <tspan class="eq">=</tspan> 72 pts)</tspan></text>
<text id="t74" transform="translate(31.974,401.600) scale(0.9676,1)" font-size="7.9" font-weight="normal" fill="#231f20" xml:space="preserve"><tspan font-style="normal">Multiple</tspan></text>
<text id="t75" transform="translate(23.968,410.900) scale(0.9268,1)" font-size="7.9" font-weight="normal" fill="#231f20" xml:space="preserve"><tspan font-style="italic">FLT3</tspan><tspan font-style="normal">-ITDs at</tspan></text>
<text id="t76" transform="translate(29.766,420.000) scale(0.9374,1)" font-size="7.9" font-weight="normal" fill="#231f20" xml:space="preserve"><tspan font-style="normal">diagnosis</tspan></text>
<text id="t77" transform="translate(25.301,429.200) scale(0.9987,1)" font-size="7.9" font-weight="normal" fill="#231f20" xml:space="preserve"><tspan font-style="normal">(n <tspan class="eq">=</tspan> 63 pts)</tspan></text>
<text id="t78" transform="translate(73.861,304.400) scale(0.9854,1)" font-size="7.9" font-weight="normal" fill="#231f20" xml:space="preserve"><tspan font-style="normal">ICT + MIDO</tspan></text>
<text id="t79" transform="translate(351.792,304.300) scale(1.0161,1)" font-size="7.9" font-weight="normal" fill="#231f20" xml:space="preserve"><tspan font-style="normal">n <tspan class="eq">=</tspan> 30 pts</tspan></text>
<text id="t80" transform="translate(149.261,284.000) scale(0.9563,1)" font-size="7.9" font-weight="normal" fill="#231f20" xml:space="preserve"><tspan font-style="italic">FLT3</tspan><tspan font-style="normal">-positive (57%)</tspan></text>
<text id="t81" transform="translate(265.166,288.300) scale(0.9370,1)" font-size="7.9" font-weight="normal" fill="#231f20" xml:space="preserve"><tspan font-style="italic">FLT3</tspan><tspan font-style="normal">-negative (43%)</tspan></text>
<text id="t82" transform="translate(102.979,345.300) scale(0.9617,1)" font-size="7.9" font-weight="normal" fill="#231f20" xml:space="preserve"><tspan font-style="normal">ICT</tspan></text>
<text id="t83" transform="translate(444.302,344.700) scale(0.9956,1)" font-size="7.9" font-weight="normal" fill="#231f20" xml:space="preserve"><tspan font-style="normal">n <tspan class="eq">=</tspan> 42 pts</tspan></text>
<text id="t84" transform="translate(223.762,320.800) scale(0.9520,1)" font-size="7.9" font-weight="normal" fill="#231f20" xml:space="preserve"><tspan font-style="italic">FLT3</tspan><tspan font-style="normal">-positive (88%)</tspan></text>
<text id="t85" transform="translate(411.562,310.800) scale(0.9500,1)" font-size="7.9" font-weight="normal" fill="#231f20" xml:space="preserve"><tspan font-style="italic">FLT3</tspan><tspan font-style="normal">-</tspan></text>
<text id="t86" transform="translate(407.231,320.000) scale(0.9379,1)" font-size="7.9" font-weight="normal" fill="#231f20" xml:space="preserve"><tspan font-style="normal">negative</tspan></text>
<text id="t87" transform="translate(411.006,329.200) scale(0.9877,1)" font-size="7.9" font-weight="normal" fill="#231f20" xml:space="preserve"><tspan font-style="normal">(12%)</tspan></text>
<text id="t88" transform="translate(73.861,395.500) scale(0.9854,1)" font-size="7.9" font-weight="normal" fill="#231f20" xml:space="preserve"><tspan font-style="normal">ICT + MIDO</tspan></text>
<text id="t89" transform="translate(251.589,394.200) scale(1.0219,1)" font-size="7.9" font-weight="normal" fill="#231f20" xml:space="preserve"><tspan font-style="normal">n <tspan class="eq">=</tspan> 17 pts</tspan></text>
<text id="t90" transform="translate(140.057,372.900) scale(0.9706,1)" font-size="7.9" font-weight="normal" fill="#231f20" xml:space="preserve"><tspan font-style="italic">FLT3</tspan><tspan font-style="normal">-positive (88%)</tspan></text>
<text id="t91" transform="translate(235.447,359.400) scale(1.0100,1)" font-size="7.9" font-weight="normal" fill="#231f20" xml:space="preserve"><tspan font-style="italic">FLT3</tspan><tspan font-style="normal">-</tspan></text>
<text id="t92" transform="translate(231.529,369.000) scale(0.9414,1)" font-size="7.9" font-weight="normal" fill="#231f20" xml:space="preserve"><tspan font-style="normal">negative</tspan></text>
<text id="t93" transform="translate(235.209,378.100) scale(0.9827,1)" font-size="7.9" font-weight="normal" fill="#231f20" xml:space="preserve"><tspan font-style="normal">(12%)</tspan></text>
<text id="t94" transform="translate(102.979,434.800) scale(0.9617,1)" font-size="7.9" font-weight="normal" fill="#231f20" xml:space="preserve"><tspan font-style="normal">ICT</tspan></text>
<text id="t95" transform="translate(474.492,434.600) scale(1.0161,1)" font-size="7.9" font-weight="normal" fill="#231f20" xml:space="preserve"><tspan font-style="normal">n <tspan class="eq">=</tspan> 46 pts</tspan></text>
<text id="t96" transform="translate(223.560,413.800) scale(0.9606,1)" font-size="7.9" font-weight="normal" fill="#231f20" xml:space="preserve"><tspan font-style="italic">FLT3</tspan><tspan font-style="normal">-positive (87%)</tspan></text>
<text id="t97" transform="translate(439.955,400.600) scale(0.9800,1)" font-size="7.9" font-weight="normal" fill="#231f20" xml:space="preserve"><tspan font-style="italic">FLT3</tspan><tspan font-style="normal">-</tspan></text>
<text id="t98" transform="translate(435.622,410.400) scale(0.9552,1)" font-size="7.9" font-weight="normal" fill="#231f20" xml:space="preserve"><tspan font-style="normal">negative</tspan></text>
<text id="t99" transform="translate(439.306,419.000) scale(0.9877,1)" font-size="7.9" font-weight="normal" fill="#231f20" xml:space="preserve"><tspan font-style="normal">(13%)</tspan></text>
<text id="t100" transform="translate(130.265,466.500) scale(0.9419,1)" font-size="7.9" font-weight="normal" fill="#231f20" xml:space="preserve"><tspan font-style="italic">FLT3</tspan><tspan font-style="normal">-ITD still positive at R/R disease</tspan></text>
<text id="t101" transform="translate(141.378,477.500) scale(0.9628,1)" font-size="7.9" font-weight="normal" fill="#231f20" xml:space="preserve"><tspan font-style="normal">Identical</tspan></text>
<text id="t102" transform="translate(141.369,489.300) scale(0.9749,1)" font-size="7.9" font-weight="normal" fill="#231f20" xml:space="preserve"><tspan font-style="normal">Loss ≥ 1 clone</tspan></text>
<text id="t103" transform="translate(205.719,477.600) scale(0.9620,1)" font-size="7.9" font-weight="normal" fill="#231f20" xml:space="preserve"><tspan font-style="normal">Gain ≥ 1 clone</tspan></text>
<text id="t104" transform="translate(205.717,489.300) scale(0.9663,1)" font-size="7.9" font-weight="normal" fill="#231f20" xml:space="preserve"><tspan font-style="normal">Switch</tspan></text>
<text id="t105" transform="translate(205.729,500.700) scale(0.9424,1)" font-size="7.9" font-weight="normal" fill="#231f20" xml:space="preserve"><tspan font-style="normal">Complex changes</tspan></text>
<text id="t106" transform="translate(297.568,466.300) scale(0.9283,1)" font-size="7.9" font-weight="normal" fill="#231f20" xml:space="preserve"><tspan font-style="italic">FLT3</tspan><tspan font-style="normal">-ITD negative at R/R disease</tspan></text>
<text id="t107" transform="translate(308.527,479.800) scale(0.9459,1)" font-size="7.9" font-weight="normal" fill="#231f20" xml:space="preserve"><tspan font-style="normal">Complete eradication of </tspan><tspan font-style="italic">FLT3</tspan><tspan font-style="normal">-ITD clone(s)</tspan></text>
</svg>
</body></html>
